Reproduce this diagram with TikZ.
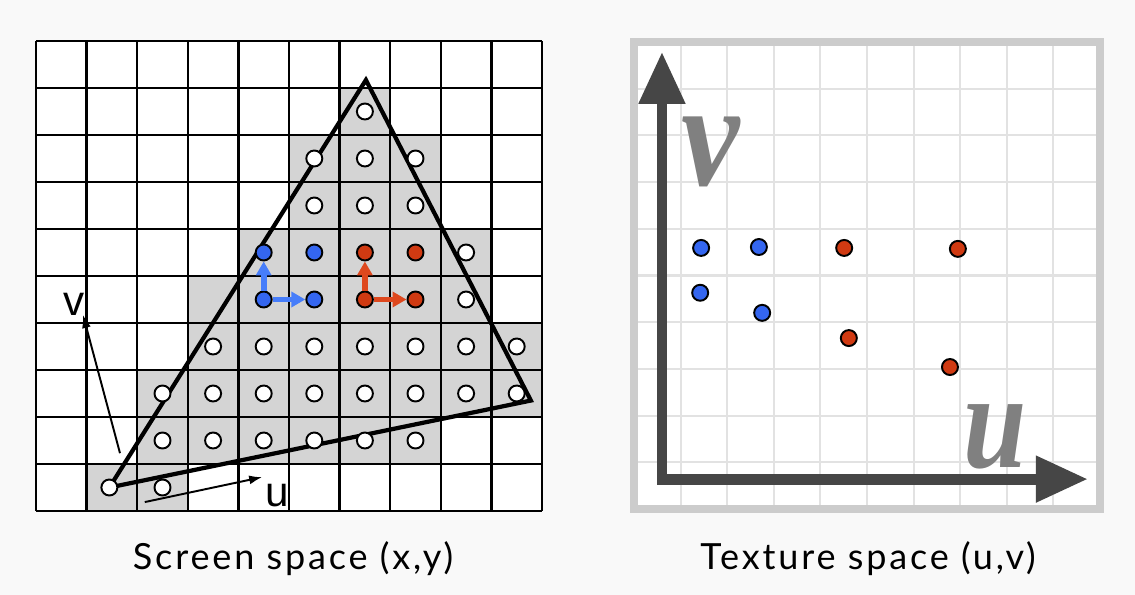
\documentclass[tikz,border=0pt]{standalone}
\usepackage{fontspec}
\setmainfont{Lato}
\newfontfamily\capfont[LetterSpace=8]{Lato}
\newfontfamily\helv{Liberation Sans}
\newfontfamily\uvfont{Liberation Serif}
\usetikzlibrary{arrows.meta,positioning}
\definecolor{dotblue}{RGB}{52,102,240}
\definecolor{dotred}{RGB}{208,58,18}
\definecolor{arrblue}{RGB}{70,125,250}
\definecolor{arrred}{RGB}{222,72,30}
\definecolor{cellgray}{RGB}{212,212,212}
\definecolor{axisgray}{RGB}{70,70,70}
\definecolor{labgray}{RGB}{128,128,128}
\definecolor{framegray}{RGB}{204,204,204}
\definecolor{texgrid}{RGB}{226,226,226}
\definecolor{bggray}{RGB}{249,249,249}

\begin{document}
\begin{tikzpicture}[
  pix/.style={circle,draw=black,fill=white,line width=1.1pt,minimum size=0.32cm,inner sep=0pt},
  bpix/.style={pix,fill=dotblue},
  rpix/.style={pix,fill=dotred},
  cell/.style={fill=cellgray},
  gridline/.style={line width=1.3pt},
  stepper/.style={line width=3.4pt,-{Triangle[length=0.28cm,width=0.3cm]}},
  uvarrow/.style={line width=1.1pt,-{Latex[length=0.26cm,width=0.18cm]}},
  axisline/.style={axisgray,line width=6.2pt,line join=miter,
                   {Triangle[length=1.04cm,width=0.88cm]}-{Triangle[length=1.04cm,width=0.88cm]}},
  uvlab/.style={font=\helv\fontsize{24}{24}\selectfont,inner sep=0pt},
  biglab/.style={text=labgray,inner sep=0pt},
  caption/.style={font=\capfont\fontsize{20.5}{24}\selectfont,anchor=base},
]
  \useasboundingbox (0,0) rectangle (22.7,11.9);
  \fill[bggray] (0,0) rectangle (22.7,11.9);

  % Screen space
  \begin{scope}[shift={(0.72,1.68)},x=1.012cm,y=0.94cm]
    \fill[white] (0,0) rectangle (10,10);
    % covered pixels
    \foreach \r/\a/\b in {8/6/6,7/5/7,6/5/7,5/4/8,4/3/8,3/3/9,2/2/9,1/2/7,0/1/2}
      \foreach \c in {\a,...,\b} \fill[cell] (\c,\r) rectangle ++(1,1);
    \foreach \i in {0,...,10} {
      \draw[gridline] (\i,0) -- (\i,10);
      \draw[gridline] (0,\i) -- (10,\i);
    }
    % triangle
    \coordinate (A) at (1.45,0.5);
    \coordinate (B) at (6.52,9.17);
    \coordinate (C) at (9.78,2.35);
    \draw[line width=2.4pt,line join=miter] (A) -- (B) -- (C) -- cycle;
    % sample points
    \foreach \r/\a/\b in {8/6/6,7/5/7,6/5/7,5/8/8,4/8/8,3/3/9,2/2/9,1/2/7,0/2/2}
      \foreach \c in {\a,...,\b} \node[pix] (p-\c-\r) at (\c+0.5,\r+0.5) {};
    \node[pix] (pA) at (A) {};
    \node[bpix] (b00) at (4.5,4.5) {};
    \node[bpix] (b01) at (4.5,5.5) {};
    \node[bpix] (b10) at (5.5,4.5) {};
    \node[bpix] (b11) at (5.5,5.5) {};
    \node[rpix] (r00) at (6.5,4.5) {};
    \node[rpix] (r01) at (6.5,5.5) {};
    \node[rpix] (r10) at (7.5,4.5) {};
    \node[rpix] (r11) at (7.5,5.5) {};
    \draw[stepper,arrblue] (b00) -- (b01);
    \draw[stepper,arrblue] (b00) -- (b10);
    \draw[stepper,arrred] (r00) -- (r01);
    \draw[stepper,arrred] (r00) -- (r10);
    % u and v on the screen
    \coordinate (vfoot) at (1.66,1.23);
    \coordinate (vtip) at (0.93,4.17);
    \draw[uvarrow] (vfoot) -- (vtip);
    \node[uvlab] (vlab) at (0.75,4.40) {v};
    \coordinate (ufoot) at (2.15,0.19);
    \coordinate (utip) at (4.47,0.72);
    \draw[uvarrow] (ufoot) -- (utip);
    \node[uvlab] (ulab) at (4.76,0.32) {u};
  \end{scope}

  % Texture space
  \begin{scope}[shift={(12.68,1.72)},x=0.932cm,y=0.934cm]
    \fill[white] (0,0) rectangle (10,10);
    \foreach \i in {1,...,9} {
      \draw[texgrid,line width=1.2pt] (\i,0) -- (\i,10);
      \draw[texgrid,line width=1.2pt] (0,\i) -- (10,\i);
    }
    \draw[framegray,line width=4.5pt] (0,0) rectangle (10,10);
    % axes
    \coordinate (O) at (0.60,0.64);
    \coordinate (vend) at (0.60,9.79);
    \coordinate (uend) at (9.74,0.64);
    \draw[axisline] (vend) -- (O) -- (uend);
    \node[biglab,font=\uvfont\bfseries\itshape\fontsize{85}{85}\selectfont,xscale=0.88]
      (tv) at (1.65,7.64) {v};
    \node[biglab,font=\uvfont\bfseries\itshape\fontsize{78}{78}\selectfont,xscale=0.83]
      (tu) at (7.75,1.54) {u};
    % looked-up points
    \node[bpix] (t1) at (1.44,5.59) {};
    \node[bpix] (t2) at (2.68,5.61) {};
    \node[rpix] (t3) at (4.51,5.59) {};
    \node[rpix] (t4) at (6.95,5.57) {};
    \node[bpix] (t5) at (1.42,4.63) {};
    \node[bpix] (t6) at (2.75,4.20) {};
    \node[rpix] (t7) at (4.61,3.66) {};
    \node[rpix] (t8) at (6.78,3.04) {};
  \end{scope}

  % Captions
  \node[caption] (scap) at (5.86,0.5) {Screen space (x,y)};
  \node[caption] (tcap) at (17.36,0.5) {Texture space (u,v)};
\end{tikzpicture}
\end{document}
